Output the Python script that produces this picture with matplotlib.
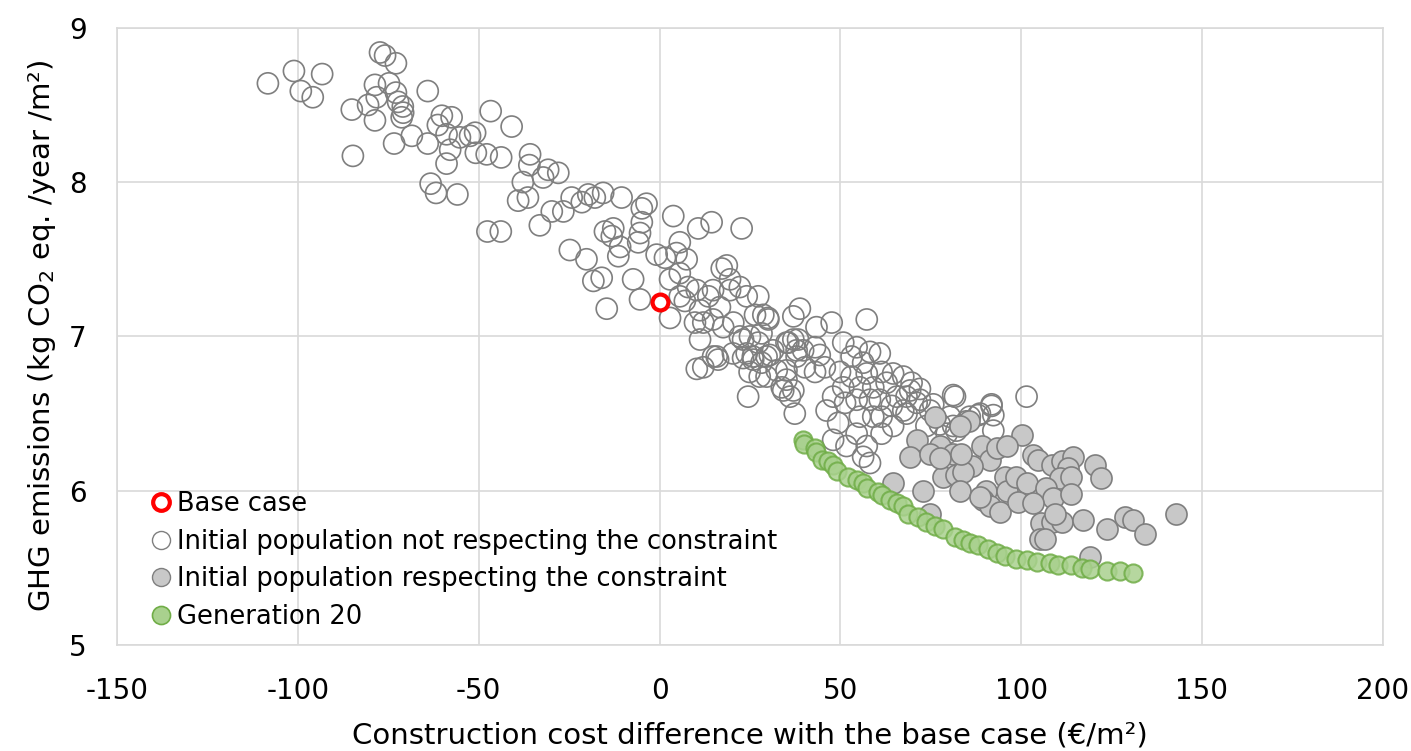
import matplotlib
matplotlib.use("Agg")
import matplotlib.pyplot as plt
from matplotlib.lines import Line2D

plt.rcParams['font.family'] = ['DejaVu Sans']
plt.rcParams['mathtext.default'] = 'regular'
plt.rcParams['axes.unicode_minus'] = False

# initial population, not respecting the constraint (open circles)
open_x = [-108.3, -101.1, -93.3, -99.2, -95.9, -77.3, -75.9, -72.9, -78.7, -74.8,
          -72.9, -78.2, -80.6, -85.1, -78.7, -72.3, -71.0, -70.9, -71.3, -64.1,
          -68.5, -73.4, -84.8, -64.1, -61.3, -60.2, -57.5, -58.9, -55.2, -52.4,
          -51.0, -57.9, -58.9, -50.8, -47.8, -43.8, -46.7, -40.9, -35.8, -36.0,
          -37.8, -39.1, -36.4, -63.3, -61.8, -55.9, -47.6, -43.9, -33.1,
          -30.8, -28.0, -32.2, -29.8, -26.6, -24.3, -21.5, -19.7, -17.9, -15.6,
          -10.5, -4.9, -3.6, 3.8, 10.7, 14.4, 22.7, -4.9, -5.4, -5.9,
          -15.1, -12.8, -13.2, -10.9, -11.4, -24.8, -20.2, -16.0, -18.3, -7.3,
          -5.4, -14.6, -0.8, 1.5, 5.6, 4.7, 7.5, 2.9, 5.6, 7.9,
          2.9, 5.6, 7.0, 10.3, 11.2, 9.8, 13.5, 14.8, 16.7, 18.6,
          17.2, 19.5, 22.2, 19.5, 24.1, 27.3, 28.7, 30.1, 37.0, 11.2,
          14.8, 16.2, 10.3, 12.1, 14.8, 17.6, 20.4, 22.2, 25.0, 27.3,
          24.1, 25.9, 29.6, 31.4, 35.1, 37.0, 37.9, 27.7, 32.4, 35.1,
          34.2, 37.0, 24.5,
          26.4, 30.0, 28.2, 23.1, 15.8, 12.1, 20.3, 23.1, 25.8, 28.2,
          30.5, 24.9, 29.6, 33.8, 36.1, 37.4, 38.8, 47.6, 43.4, 35.6,
          38.3, 39.7, 43.0, 44.3, 37.9, 35.1, 40.2, 43.0, 45.7, 50.8,
          54.5, 53.1, 58.2, 60.9, 56.3, 49.9, 53.1, 57.3, 61.4, 64.6,
          67.4, 69.7, 72.0, 62.8, 59.1, 55.4, 50.8, 48.0, 46.2, 51.3,
          54.5, 58.2, 60.9, 65.6, 68.3, 64.2, 67.4, 71.1, 74.8, 81.2,
          77.5, 81.2, 84.9, 88.1, 91.8, 92.3, 48.0, 54.5, 57.3, 56.3,
          58.2, 61.4, 64.6, 61.4, 59.1, 55.4, 49.4, 51.7, 57.3,
          81.7, 101.5, 91.8, 92.3, 88.6, 85.8, 80.3, 75.7, 72.0, 69.3,
          68.3, 73.8, 79.4, 82.1]
open_y = [8.64, 8.72, 8.70, 8.59, 8.55, 8.84, 8.82, 8.77, 8.63, 8.64,
          8.58, 8.55, 8.50, 8.47, 8.40, 8.52, 8.49, 8.45, 8.42, 8.59,
          8.30, 8.25, 8.17, 8.25, 8.37, 8.43, 8.42, 8.31, 8.29, 8.30,
          8.32, 8.21, 8.12, 8.19, 8.18, 8.16, 8.46, 8.36, 8.18, 8.11,
          8.00, 7.88, 7.90, 7.99, 7.93, 7.92, 7.68, 7.68, 7.72,
          8.08, 8.06, 8.03, 7.81, 7.81, 7.90, 7.87, 7.92, 7.90, 7.93,
          7.90, 7.83, 7.86, 7.78, 7.70, 7.74, 7.70, 7.74, 7.67, 7.61,
          7.68, 7.70, 7.65, 7.58, 7.52, 7.56, 7.50, 7.38, 7.36, 7.37,
          7.24, 7.18, 7.53, 7.51, 7.61, 7.54, 7.50, 7.37, 7.41, 7.32,
          7.12, 7.26, 7.23, 7.30, 7.17, 7.09, 7.26, 7.30, 7.19, 7.46,
          7.44, 7.37, 7.32, 7.30, 7.26, 7.26, 7.14, 7.11, 7.13, 6.98,
          6.87, 6.85, 6.79, 7.09, 7.11, 7.06, 7.09, 7.00, 7.00, 6.96,
          6.89, 6.85, 6.87, 6.91, 6.96, 6.98, 6.91, 6.74, 6.78, 6.72,
          6.65, 6.65, 6.61,
          7.14, 7.12, 7.02, 6.98, 6.87, 6.80, 6.89, 6.86, 6.87, 6.83,
          6.88, 6.77, 6.74, 6.67, 6.61, 6.50, 7.18, 7.09, 7.06, 6.96,
          6.98, 6.91, 6.93, 6.88, 6.87, 6.78, 6.80, 6.77, 6.80, 6.96,
          6.93, 6.87, 6.90, 6.89, 6.83, 6.77, 6.74, 6.76, 6.77, 6.76,
          6.74, 6.70, 6.66, 6.70, 6.67, 6.67, 6.67, 6.61, 6.52, 6.57,
          6.59, 6.59, 6.59, 6.61, 6.61, 6.55, 6.52, 6.57, 6.52, 6.62,
          6.43, 6.42, 6.45, 6.49, 6.56, 6.49, 6.33, 6.37, 6.29, 6.22,
          6.18, 6.37, 6.42, 6.48, 6.48, 6.48, 6.44, 6.29, 7.11,
          6.61, 6.61, 6.55, 6.39, 6.50, 6.48, 6.48, 6.56, 6.59, 6.65,
          6.50, 6.42, 6.37, 6.39]

# initial population respecting the constraint (grey filled)
grey_x = [76.1, 85.6, 83.0, 71.1, 77.5, 69.2, 74.8, 81.2, 89.1, 91.3,
          86.3, 78.4, 82.1, 84.0, 72.9, 83.0, 90.4, 64.6, 89.5, 91.3,
          100.1, 77.5, 83.5, 93.2, 96.0, 88.6, 94.1, 95.5, 96.0, 98.7,
          101.5, 103.3, 104.7, 108.4, 111.2, 114.4, 113.0, 110.7, 113.9, 107.0,
          108.8, 113.9, 99.2, 103.3, 105.6, 108.4, 111.2, 109.3, 105.2, 106.6,
          120.4, 122.2, 117.0, 123.8, 128.7, 131.0, 134.2, 142.8, 119.0, 74.8]
grey_y = [6.48, 6.45, 6.42, 6.33, 6.29, 6.22, 6.24, 6.24, 6.29, 6.20,
          6.16, 6.09, 6.10, 6.12, 6.00, 6.00, 6.00, 6.05, 5.94, 5.90,
          6.36, 6.21, 6.24, 6.28, 6.29, 5.96, 5.86, 6.09, 6.00, 6.09,
          6.05, 6.23, 6.20, 6.17, 6.19, 6.22, 6.15, 6.08, 6.09, 6.02,
          5.95, 5.98, 5.93, 5.92, 5.79, 5.80, 5.80, 5.85, 5.69, 5.69,
          6.17, 6.08, 5.81, 5.75, 5.83, 5.81, 5.72, 5.85, 5.57, 5.85]

# generation 20 (green)
gen_x = [39.6, 39.9, 43.0, 43.4, 44.8, 46.6, 48.0, 49.0, 52.2, 54.5,
         56.3, 57.3, 60.5, 61.4, 63.7, 65.6, 67.4, 68.8, 71.5, 73.8,
         76.1, 78.4, 81.7, 84.0, 85.8, 88.1, 90.9, 93.2, 95.5, 98.7,
         101.5, 104.3, 107.9, 110.2, 113.9, 116.7, 119.0, 123.6, 127.3, 131.0]
gen_y = [6.33, 6.30, 6.28, 6.25, 6.20, 6.19, 6.17, 6.13, 6.09, 6.07,
         6.05, 6.02, 5.99, 5.97, 5.94, 5.92, 5.90, 5.85, 5.83, 5.80,
         5.77, 5.75, 5.70, 5.68, 5.66, 5.65, 5.62, 5.60, 5.58, 5.56,
         5.55, 5.54, 5.53, 5.52, 5.52, 5.50, 5.49, 5.48, 5.48, 5.47]

base_x = [0]
base_y = [7.22]

fig = plt.figure(figsize=(14.11, 7.51), dpi=100)
ax = fig.add_axes([0.083, 0.141, 0.897, 0.822])

ax.scatter(open_x, open_y, s=230, facecolors='none', edgecolors='#7f7f7f',
           linewidths=1.2, zorder=3)
ax.scatter(grey_x, grey_y, s=230, facecolors='#c8c8c8', edgecolors='#7f7f7f',
           linewidths=1.2, zorder=4)
ax.scatter(gen_x, gen_y, s=170, facecolors='#a9d18e', edgecolors='#70ad47',
           linewidths=1.5, alpha=0.85, zorder=5)
ax.scatter(base_x, base_y, s=130, facecolors='white', edgecolors='#ff0000',
           linewidths=3, zorder=6)

ax.set_xlim(-150, 200)
ax.set_ylim(5, 9)
ax.set_xticks([-150, -100, -50, 0, 50, 100, 150, 200])
ax.set_yticks([5, 6, 7, 8, 9])
ax.grid(True, color='#d9d9d9', linewidth=1.2, zorder=0)
ax.set_axisbelow(True)
for sp in ax.spines.values():
    sp.set_color('#d9d9d9')
    sp.set_linewidth(1.2)
ax.tick_params(axis='both', length=0, labelsize=20, colors='#000000')
ax.tick_params(axis='x', pad=23)
ax.tick_params(axis='y', pad=22)

ax.set_xlabel('Construction cost difference with the base case (€/m²)',
              fontsize=21, labelpad=12)
ax.set_ylabel('GHG emissions (kg CO$_2$ eq. /year /m²)', fontsize=21, labelpad=8)

handles = [
    Line2D([], [], linestyle='none', marker='o', markersize=12,
           markerfacecolor='white', markeredgecolor='#ff0000', markeredgewidth=3),
    Line2D([], [], linestyle='none', marker='o', markersize=13,
           markerfacecolor='white', markeredgecolor='#7f7f7f', markeredgewidth=1),
    Line2D([], [], linestyle='none', marker='o', markersize=13,
           markerfacecolor='#c8c8c8', markeredgecolor='#7f7f7f', markeredgewidth=1),
    Line2D([], [], linestyle='none', marker='o', markersize=13,
           markerfacecolor='#a9d18e', markeredgecolor='#70ad47', markeredgewidth=1.2),
]
labels = ['Base case', 'Initial population not respecting the constraint',
          'Initial population respecting the constraint', 'Generation 20']
ax.legend(handles, labels, loc='lower left', bbox_to_anchor=(0.01, 0.0),
          frameon=False, fontsize=18.5, handletextpad=0.05, handlelength=1.2,
          labelspacing=0.45, borderaxespad=0.2)

fig.savefig('out.png', dpi=100)
